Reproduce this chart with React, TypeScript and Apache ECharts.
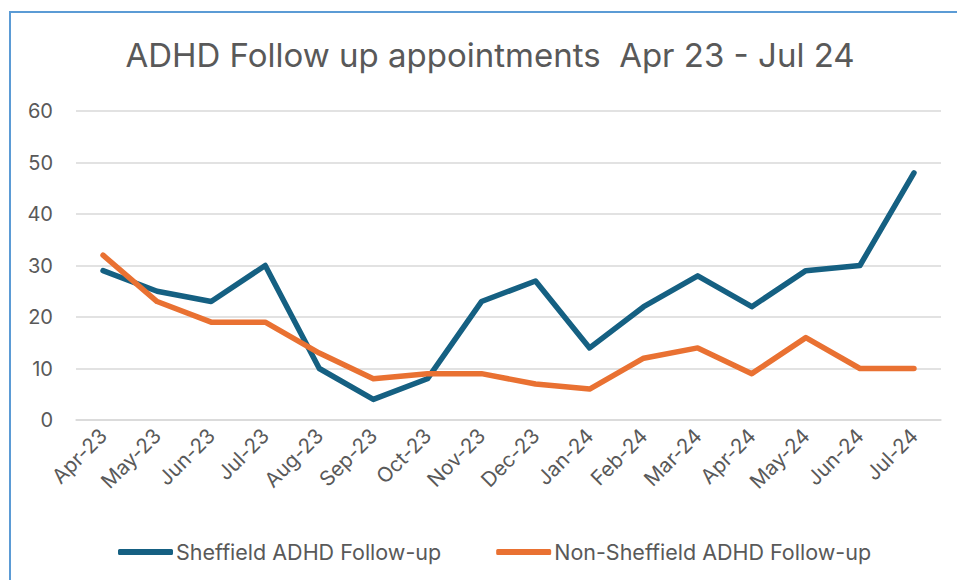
import React, { useEffect, useRef } from "react";
import * as echarts from "echarts";

const categories = [
  "Apr-23", "May-23", "Jun-23", "Jul-23", "Aug-23", "Sep-23", "Oct-23", "Nov-23",
  "Dec-23", "Jan-24", "Feb-24", "Mar-24", "Apr-24", "May-24", "Jun-24", "Jul-24",
];
const sheffield = [29, 25, 23, 30, 10, 4, 8, 23, 27, 14, 22, 28, 22, 29, 30, 48];
const nonSheffield = [32, 23, 19, 19, 13, 8, 9, 9, 7, 6, 12, 14, 9, 16, 10, 10];
const yTicks = { min: 0, max: 60, interval: 10 };
const titleText = "ADHD Follow up appointments  Apr 23 - Jul 24";

const FONT = "Inter, 'Open Sans', sans-serif";
const TEXT = "#595959";

export default function App() {
  const ref = useRef<HTMLDivElement>(null);
  useEffect(() => {
    if (!ref.current) return;
    const chart = echarts.init(ref.current, undefined, { renderer: "svg" });
    chart.setOption({
      animation: false,
      backgroundColor: "#ffffff",
      textStyle: { fontFamily: FONT },
      graphic: [
        {
          type: "rect",
          shape: { x: 10, y: 12, width: 1000, height: 1000 },
          style: { fill: "none", stroke: "#5B9BD5", lineWidth: 2 },
          silent: true,
        },
        {
          type: "text",
          x: 490,
          y: 55,
          style: {
            text: titleText,
            fill: TEXT,
            font: `33px ${FONT}`,
            textAlign: "center",
            textVerticalAlign: "middle",
          },
        },
      ],
      grid: { left: 76, right: 16, top: 111, bottom: 160 },
      legend: {
        left: 113,
        top: 536,
        icon: "roundRect",
        itemWidth: 55,
        itemHeight: 6,
        itemGap: 55,
        textStyle: { color: TEXT, fontSize: 21.5, fontFamily: FONT, padding: [0, 0, 0, -2] },
        data: ["Sheffield ADHD Follow-up", "Non-Sheffield ADHD Follow-up"],
      },
      xAxis: {
        type: "category",
        data: categories,
        boundaryGap: true,
        axisLine: { show: true, lineStyle: { color: "#D9D9D9", width: 1.5 } },
        axisTick: { show: false },
        axisLabel: { rotate: 45, color: TEXT, fontSize: 20.5, margin: 12, interval: 0 },
      },
      yAxis: {
        type: "value",
        min: yTicks.min,
        max: yTicks.max,
        interval: yTicks.interval,
        axisLine: { show: false },
        axisTick: { show: false },
        axisLabel: { color: TEXT, fontSize: 20, margin: 23 },
        splitLine: { lineStyle: { color: "#D9D9D9", width: 1.5 } },
      },
      series: [
        {
          name: "Sheffield ADHD Follow-up",
          type: "line",
          data: sheffield,
          showSymbol: false,
          symbol: "none",
          lineStyle: { color: "#156082", width: 5.5, cap: "round", join: "round" },
          itemStyle: { color: "#156082" },
        },
        {
          name: "Non-Sheffield ADHD Follow-up",
          type: "line",
          data: nonSheffield,
          showSymbol: false,
          symbol: "none",
          lineStyle: { color: "#E97132", width: 5.5, cap: "round", join: "round" },
          itemStyle: { color: "#E97132" },
        },
      ],
    });
    return () => chart.dispose();
  }, []);
  return (
    <div style={{ position: "fixed", left: 0, top: 0, width: 957, height: 580 }}>
      <div ref={ref} style={{ width: 957, height: 580 }} />
    </div>
  );
}
